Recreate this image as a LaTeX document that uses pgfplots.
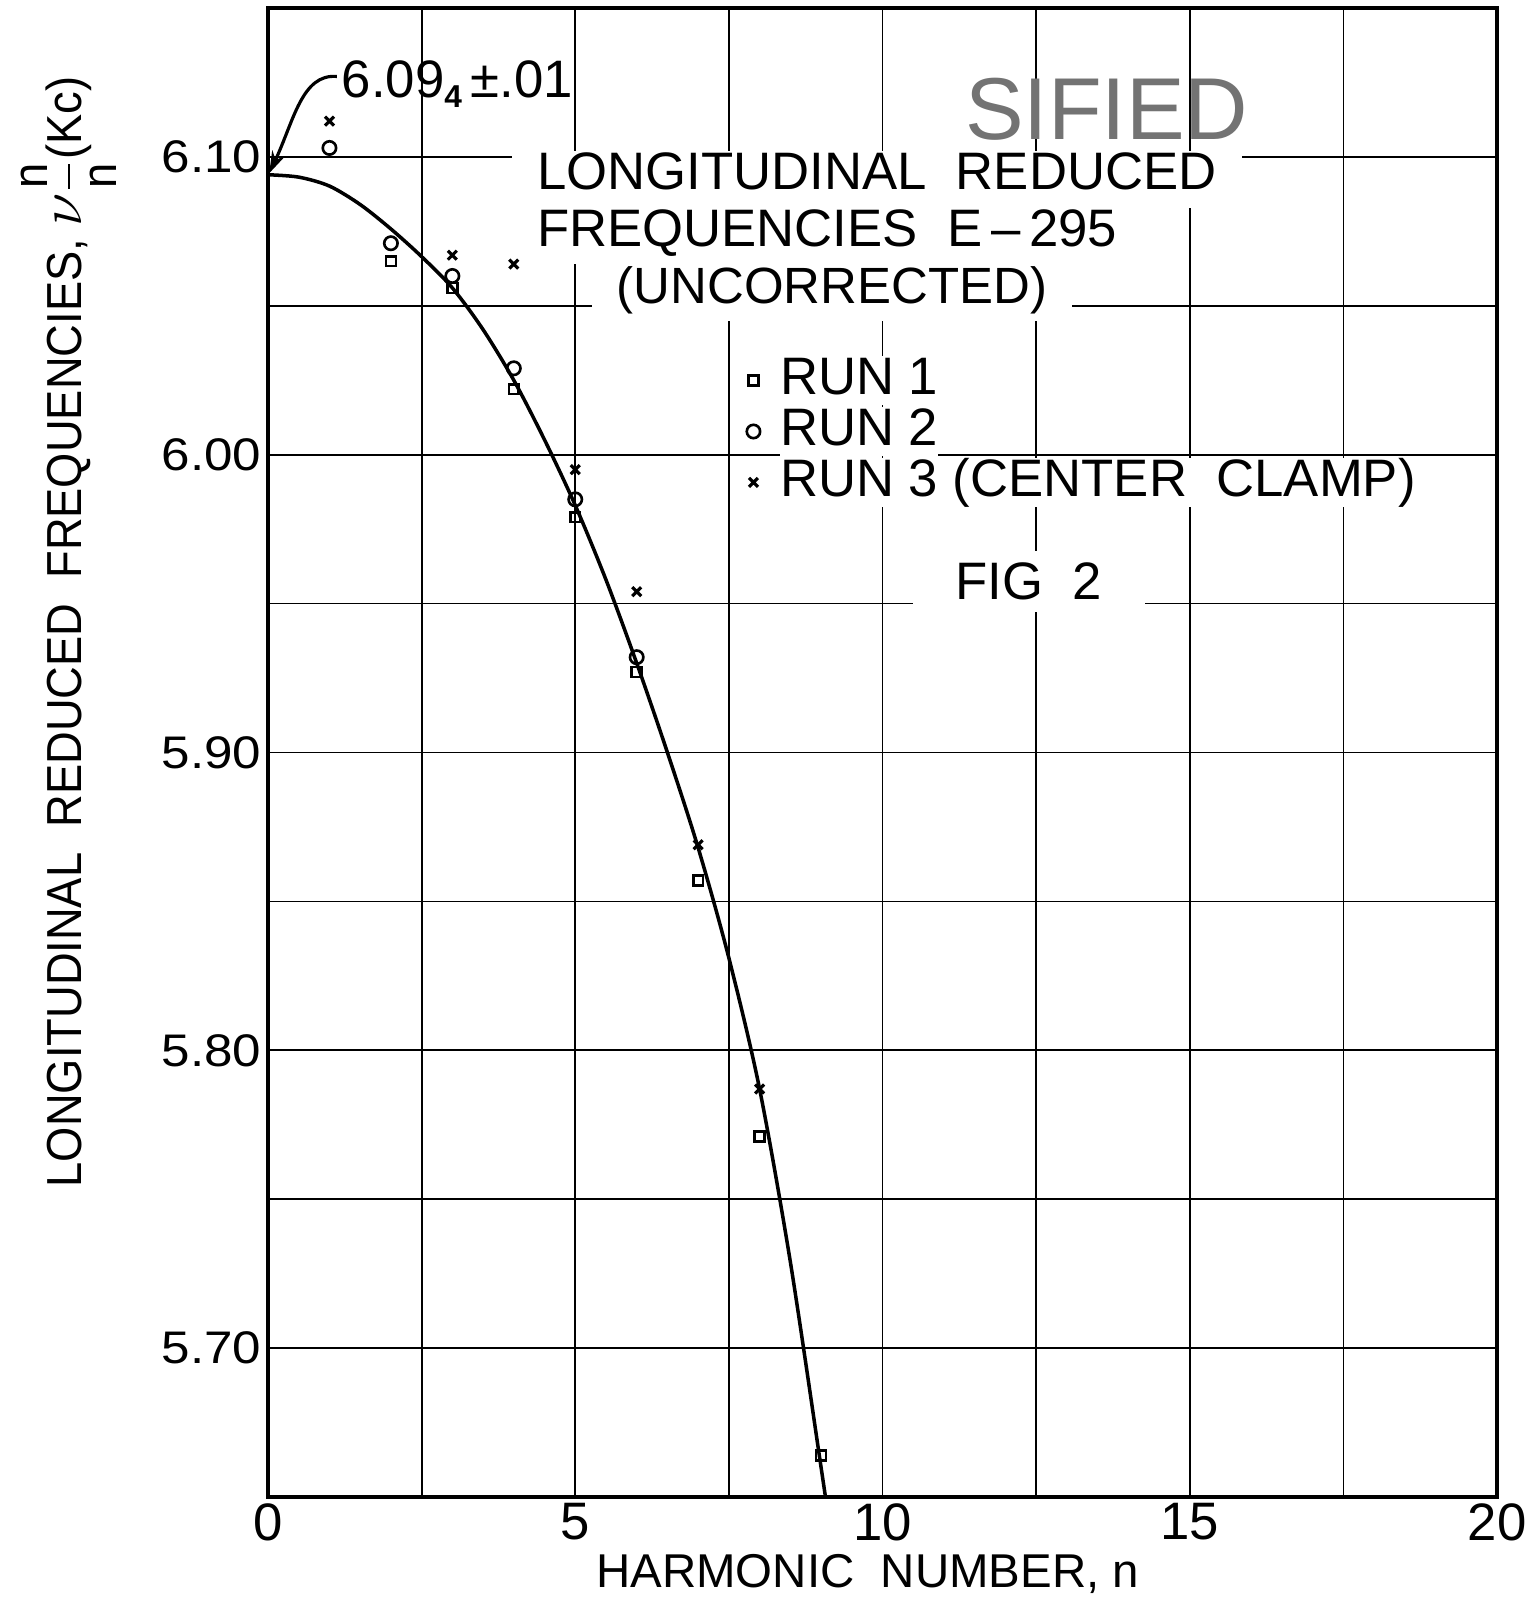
\documentclass[border=0pt]{standalone}
\usepackage{amsmath}
\usepackage{fontspec}
\setmainfont{Liberation Sans}
\newfontfamily\widefont[FakeStretch=1.12]{Liberation Sans}
\newfontfamily\narrowfont[FakeStretch=0.92]{Liberation Sans}
\usepackage{pgfplots}
\pgfplotsset{compat=1.18}
\usetikzlibrary{arrows.meta}

% run 1 (squares), run 2 (circles), run 3 (crosses, center clamp)
\pgfplotstableread{
n  f
2  6.065
3  6.056
4  6.022
5  5.979
6  5.927
7  5.857
8  5.771
9  5.664
}\runone
\pgfplotstableread{
n  f
1  6.103
2  6.071
3  6.060
4  6.029
5  5.985
6  5.932
}\runtwo
\pgfplotstableread{
n  f
1  6.112
3  6.067
4  6.064
5  5.995
6  5.954
7  5.869
8  5.787
}\runthree

\begin{document}
\begin{tikzpicture}
\useasboundingbox (-2.68cm,-1.00cm) rectangle (12.69cm,14.97cm);
\begin{axis}[
    scale only axis,
    width=12.29cm, height=14.89cm,
    xmin=0, xmax=20, ymin=5.65, ymax=6.15,
    xtick={0,5,10,15,20},
    minor xtick={2.5,7.5,12.5,17.5},
    ytick={5.7,5.8,5.9,6.0,6.1},
    minor ytick={5.75,5.85,5.95,6.05},
    grid=both,
    major grid style={black, line width=0.5pt},
    minor grid style={black, line width=0.5pt},
    major tick length=0pt, minor tick length=0pt,
    axis line style={line width=1pt},
    /pgf/number format/assume math mode=true,
    xticklabel style={font=\fontsize{15}{15}\selectfont, inner sep=0pt, yshift=-0.06cm},
    yticklabel style={font=\widefont\fontsize{13}{13}\selectfont, inner sep=0pt, xshift=-0.06cm,
        /pgf/number format/.cd, fixed, fixed zerofill, precision=2},
    xlabel={HARMONIC\ \ NUMBER, n},
    xlabel style={at={(rel axis cs:0.488,-0.052)}, anchor=center, inner sep=0pt, font=\fontsize{13.5}{13.5}\selectfont},
    ylabel={LONGITUDINAL\ \ REDUCED\ \ FREQUENCIES, {\fontsize{18}{18}\selectfont$\nu$}$\dfrac{\text{n}}{\text{n}}$(Kc)},
    ylabel style={at={(rel axis cs:-0.162,0.581)}, anchor=center, font=\narrowfont\fontsize{14}{14}\selectfont},
    legend image code/.code={\draw[mark repeat=2,mark phase=2,#1] plot coordinates {(0cm,0cm) (0.1cm,0cm) (0.2cm,0cm)};},
    legend style={at={(axis cs:7.78,6.0334)}, anchor=north west, draw=none, fill=none,
        inner sep=0pt, row sep=0.5pt, column sep=0.2cm,
        font=\fontsize{15}{15}\selectfont,
        nodes={fill=white, inner sep=0pt, text height=11pt, text depth=3pt}},
    legend cell align=left,
]
% fitted curve
\addplot[black, line width=1pt, smooth, forget plot] coordinates {
    (0,6.094) (0.5,6.0932) (1,6.0902) (1.5,6.0840) (2,6.0758) (2.5,6.0665)
    (3,6.0560) (3.5,6.0420) (4,6.0250) (4.5,6.0050) (5,5.983) (5.5,5.958)
    (6,5.930) (6.5,5.900) (7,5.868) (7.5,5.831) (8,5.787) (8.5,5.729)
    (9,5.660) (9.1,5.646)
};
\addplot[only marks, mark=square, mark size=1.4pt, mark options={line width=0.75pt}] table[x=n, y=f] {\runone};
\addlegendentry{RUN 1}
\addplot[only marks, mark=o, mark size=1.9pt, mark options={line width=0.75pt}] table[x=n, y=f] {\runtwo};
\addlegendentry{RUN 2}
\addplot[only marks, mark=x, mark size=1.8pt, mark options={line width=0.9pt}] table[x=n, y=f] {\runthree};
\addlegendentry{RUN 3 (CENTER\ \ CLAMP)}

% title
\node[anchor=base west, fill=white, inner xsep=0.25cm, inner ysep=0pt, text height=11pt, text depth=5.2pt,
      font=\fontsize{15}{15}\selectfont] at (axis cs:3.96,6.0891) {LONGITUDINAL\ \ REDUCED};
\node[anchor=base west, fill=white, inner xsep=0.25cm, inner ysep=0pt, text height=11pt, text depth=5.2pt,
      font=\fontsize{15}{15}\selectfont] at (axis cs:3.96,6.0700) {FREQUENCIES\ \ E\,--\,295};
\node[anchor=base, fill=white, inner xsep=0.25cm, inner ysep=0pt, text height=11pt, text depth=5.2pt,
      font=\fontsize{14.5}{14.5}\selectfont] at (axis cs:9.18,6.0509) {(UNCORRECTED)};
\node[anchor=base, fill=white, inner xsep=0.43cm, inner ysep=0.12cm,
      font=\fontsize{15}{15}\selectfont] at (axis cs:12.38,5.9513) {FIG\ \ 2};

% intercept annotation
\node[anchor=base west, inner sep=0pt, font=\fontsize{15}{15}\selectfont] at (axis cs:1.19,6.1198)
    {6.09\raisebox{-0.35ex}{\fontsize{9}{9}\selectfont\bfseries 4}\,±.01};
\draw[-{Stealth[length=0.22cm, width=0.14cm]}, line width=0.9pt]
    (axis cs:1.12,6.127) .. controls (axis cs:0.55,6.128) and (axis cs:0.42,6.112) .. (axis cs:0.02,6.0945);

% stamp remnant
\node[anchor=base, inner sep=0pt, text=black!55, font=\fontsize{25}{25}\selectfont] at (axis cs:13.65,6.1060) {SIFIED};
\end{axis}
\end{tikzpicture}
\end{document}
